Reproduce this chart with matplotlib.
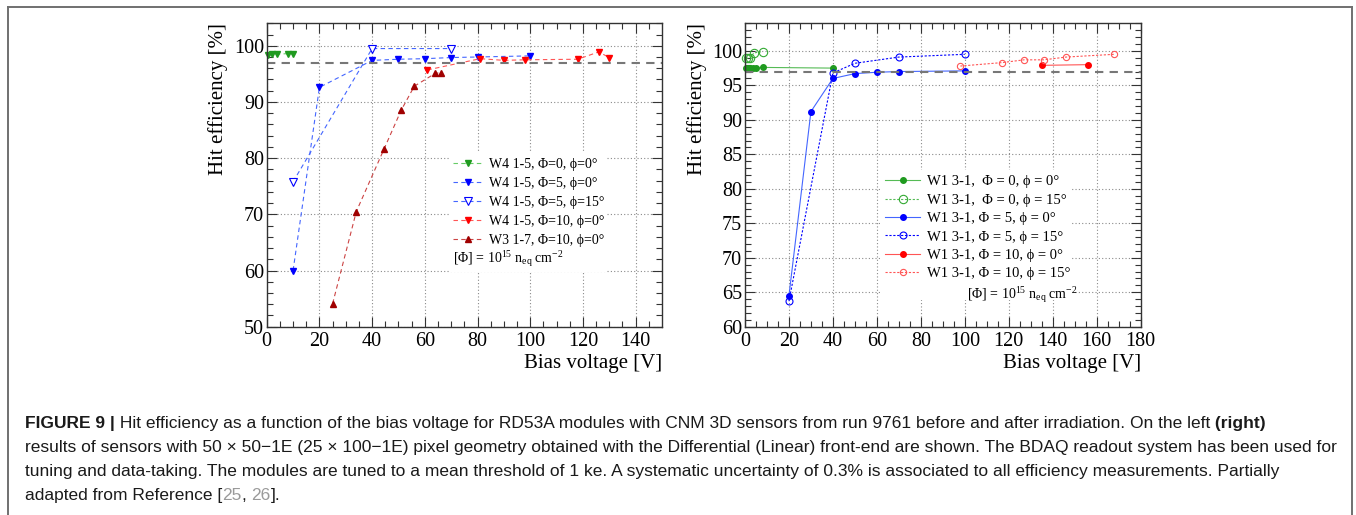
import matplotlib
matplotlib.use("Agg")
import matplotlib.pyplot as plt
from matplotlib.lines import Line2D
from matplotlib.patches import Rectangle
from matplotlib.ticker import MultipleLocator
from matplotlib.transforms import IdentityTransform

plt.rcParams["font.family"] = ["Liberation Serif", "DejaVu Serif"]
plt.rcParams["mathtext.fontset"] = "custom"
plt.rcParams["mathtext.rm"] = "Liberation Serif"
plt.rcParams["mathtext.it"] = "Liberation Serif:italic"
plt.rcParams["mathtext.bf"] = "Liberation Serif:bold"

# -------------------------------------------------------
# LEFT PANEL DATA (50x50 sensors, Differential FE)
# -------------------------------------------------------
w4_phi0_v = [0.5, 2, 4, 8, 10]
w4_phi0_eff = [98.4, 98.5, 98.5, 98.6, 98.5]

w4_phi5_v = [10, 20, 40, 50, 60, 70, 80, 100]
w4_phi5_eff = [60.0, 92.6, 97.4, 97.6, 97.7, 97.9, 98.0, 98.2]

w4_phi5_15_v = [10, 40, 70]
w4_phi5_15_eff = [75.8, 99.5, 99.5]

w4_phi10_v = [61, 81, 90, 98, 118, 126, 130]
w4_phi10_eff = [95.7, 97.7, 97.4, 97.5, 97.6, 98.9, 97.9]

w3_phi10_v = [25, 34, 44.5, 51, 56, 64, 66]
w3_phi10_eff = [54.1, 70.5, 81.6, 88.5, 92.8, 95.1, 95.2]

left_labels = [
    "W4 1-5, \u03a6=0, \u03d5=0\u00b0",
    "W4 1-5, \u03a6=5, \u03d5=0\u00b0",
    "W4 1-5, \u03a6=5, \u03d5=15\u00b0",
    "W4 1-5, \u03a6=10, \u03d5=0\u00b0",
    "W3 1-7, \u03a6=10, \u03d5=0\u00b0",
]

# -------------------------------------------------------
# RIGHT PANEL DATA (25x100 sensors, Linear FE)
# -------------------------------------------------------
w1_phi0_v = [0.5, 1.5, 2.5, 3.5, 5, 8, 40]
w1_phi0_eff = [97.5, 97.5, 97.5, 97.5, 97.5, 97.6, 97.5]

w1_phi0_15_v = [0.5, 1.5, 2.5, 4, 8]
w1_phi0_15_eff = [99.0, 98.9, 99.0, 99.7, 99.9]

w1_phi5_v = [20, 30, 40, 50, 60, 70, 100]
w1_phi5_eff = [64.5, 91.2, 96.0, 96.7, 96.9, 97.0, 97.1]

w1_phi5_15_v = [20, 40, 50, 70, 100]
w1_phi5_15_eff = [63.7, 96.8, 98.2, 99.1, 99.5]

w1_phi10_v = [135, 156]
w1_phi10_eff = [97.9, 98.0]

w1_phi10_15_v = [98, 117, 127, 136, 146, 168]
w1_phi10_15_eff = [97.8, 98.3, 98.7, 98.7, 99.1, 99.5]

right_labels = [
    "W1 3-1,  \u03a6 = 0, \u03d5 = 0\u00b0",
    "W1 3-1,  \u03a6 = 0, \u03d5 = 15\u00b0",
    "W1 3-1, \u03a6 = 5, \u03d5 = 0\u00b0",
    "W1 3-1, \u03a6 = 5, \u03d5 = 15\u00b0",
    "W1 3-1, \u03a6 = 10, \u03d5 = 0\u00b0",
    "W1 3-1, \u03a6 = 10, \u03d5 = 15\u00b0",
]

fluence_note = r"[$\Phi$] = 10$^{15}$ n$_{\rm eq}$ cm$^{-2}$"
efficiency_target = 97

caption_lines = [
    [("FIGURE 9 |", "bold", "#1a1a1a"),
     (" Hit efficiency as a function of the bias voltage for RD53A modules with CNM 3D sensors "
      "from run 9761 before and after irradiation. On the left", "normal", "#1a1a1a"),
     (" (right)", "bold", "#1a1a1a")],
    [("results of sensors with 50 \u00d7 50\u22121E (25 \u00d7 100\u22121E) pixel geometry obtained with "
      "the Differential (Linear) front-end are shown. The BDAQ readout system has been used for",
      "normal", "#1a1a1a")],
    [("tuning and data-taking. The modules are tuned to a mean threshold of 1 ke. A systematic "
      "uncertainty of 0.3% is associated to all efficiency measurements. Partially", "normal", "#1a1a1a")],
    [("adapted from Reference [", "normal", "#1a1a1a"), ("25", "normal", "#9a9a9a"),
     (", ", "normal", "#1a1a1a"), ("26", "normal", "#9a9a9a"), ("].", "normal", "#1a1a1a")],
]
caption_right_edges = [1278, 1322, 1319, 0]

GREEN = "#1f9a1f"
BLUE = "#0000ff"
RED = "#ff0000"
DARKRED = "#a00000"


def style_axes(ax, xlim, ylim, xmaj, xmin, ymaj, ymin):
    ax.set_xlim(*xlim)
    ax.set_ylim(*ylim)
    ax.xaxis.set_major_locator(MultipleLocator(xmaj))
    ax.xaxis.set_minor_locator(MultipleLocator(xmin))
    ax.yaxis.set_major_locator(MultipleLocator(ymaj))
    ax.yaxis.set_minor_locator(MultipleLocator(ymin))
    ax.tick_params(which="both", direction="in", top=True, right=True,
                   labelsize=14.5, width=0.8, color="#333333")
    ax.tick_params(axis="x", which="both", pad=4)
    ax.tick_params(axis="y", which="both", pad=2)
    ax.tick_params(which="major", length=7)
    ax.tick_params(which="minor", length=4)
    for sp in ax.spines.values():
        sp.set_linewidth(1.0)
        sp.set_color("#333333")
    ax.grid(True, which="major", linestyle=(0, (1, 2)), color="#8a8a8a", linewidth=0.8)
    ax.axhline(efficiency_target, color="#777777", linestyle=(0, (4, 3)), linewidth=1.5, zorder=2.5)
    ax.set_xlabel("Bias voltage [V]", loc="right", fontsize=15, labelpad=2)
    ax.set_ylabel("Hit efficiency [%]", loc="top", fontsize=15, labelpad=4)


fig = plt.figure(figsize=(13.56, 5.15), dpi=100)

# -------------------------------------------------------
# LEFT PANEL
# -------------------------------------------------------
axl = fig.add_axes([0.1967, 0.3656, 0.2913, 0.5892])
style_axes(axl, (0, 149.9), (50, 104), 20, 5, 10, 2)

dash = (0, (4, 3))
axl.plot(w4_phi0_v, w4_phi0_eff, ls=dash, lw=0.8, color="#66cc66", marker="v", ms=5,
         mfc=GREEN, mec=GREEN, clip_on=False, label=left_labels[0])
axl.plot(w4_phi5_v, w4_phi5_eff, ls=dash, lw=0.8, color="#4466ff", marker="v", ms=5,
         mfc=BLUE, mec=BLUE, clip_on=False, label=left_labels[1])
axl.plot(w4_phi5_15_v, w4_phi5_15_eff, ls=dash, lw=0.8, color="#4466ff", marker="v", ms=5.5,
         mfc="white", mec=BLUE, mew=0.8, clip_on=False, label=left_labels[2])
axl.plot(w4_phi10_v, w4_phi10_eff, ls=dash, lw=0.8, color="#ff5555", marker="v", ms=5,
         mfc=RED, mec=RED, clip_on=False, label=left_labels[3])
axl.plot(w3_phi10_v, w3_phi10_eff, ls=dash, lw=0.8, color="#cc4444", marker="^", ms=5,
         mfc=DARKRED, mec=DARKRED, clip_on=False, label=left_labels[4])

axl.add_patch(Rectangle((0.462, 0.180), 0.40, 0.40, transform=axl.transAxes,
                        facecolor="white", edgecolor="none", zorder=1.8))
axl.legend(loc="upper left", bbox_to_anchor=(0.472, 0.557), frameon=False, fontsize=10,
           handlelength=2.2, handletextpad=0.4, labelspacing=0.43, borderpad=0, borderaxespad=0)
axl.text(0.472, 0.222, fluence_note, transform=axl.transAxes, fontsize=10,
         ha="left", va="center", zorder=6)

# -------------------------------------------------------
# RIGHT PANEL
# -------------------------------------------------------
axr = fig.add_axes([0.5494, 0.3656, 0.2918, 0.5892])
style_axes(axr, (0, 180), (60, 104), 20, 5, 5, 1)

dot = (0, (2, 1.5))
axr.plot(w1_phi0_v, w1_phi0_eff, ls="-", lw=0.8, color="#55bb55", marker="o", ms=4,
         mfc=GREEN, mec=GREEN, clip_on=False, label=right_labels[0])
axr.plot(w1_phi0_15_v, w1_phi0_15_eff, ls=dot, lw=0.8, color="#55bb55", marker="o", ms=6,
         mfc="none", mec="#33aa33", mew=0.8, clip_on=False, label=right_labels[1])
axr.plot(w1_phi5_v, w1_phi5_eff, ls="-", lw=0.8, color="#4466ff", marker="o", ms=4,
         mfc=BLUE, mec=BLUE, clip_on=False, label=right_labels[2])
axr.plot(w1_phi5_15_v, w1_phi5_15_eff, ls=dot, lw=0.8, color=BLUE, marker="o", ms=5,
         mfc="none", mec=BLUE, mew=0.8, clip_on=False, label=right_labels[3])
axr.plot(w1_phi10_v, w1_phi10_eff, ls="-", lw=0.8, color="#ff5555", marker="o", ms=4,
         mfc=RED, mec=RED, clip_on=False, label=right_labels[4])
axr.plot(w1_phi10_15_v, w1_phi10_15_eff, ls=dot, lw=0.8, color="#ff5555", marker="o", ms=4.5,
         mfc="none", mec="#ff5555", mew=0.8, clip_on=False, label=right_labels[5])

axr.add_patch(Rectangle((0.341, 0.088), 0.48, 0.43, transform=axr.transAxes,
                        facecolor="white", edgecolor="none", zorder=1.8))
axr.legend(loc="upper left", bbox_to_anchor=(0.354, 0.500), frameon=False, fontsize=10.5,
           handlelength=2.4, handletextpad=0.45, labelspacing=0.36, borderpad=0, borderaxespad=0)
axr.text(0.561, 0.105, fluence_note, transform=axr.transAxes, fontsize=10,
         ha="left", va="center", zorder=6)

# -------------------------------------------------------
# FRAME + CAPTION
# -------------------------------------------------------
H = 515.0
frame_kw = dict(transform=IdentityTransform(), color="#707070", linewidth=1.4)
fig.add_artist(Line2D([8, 1352], [H - 6.5, H - 6.5], **frame_kw))
fig.add_artist(Line2D([8, 8], [0, H - 6.5], **frame_kw))
fig.add_artist(Line2D([1352, 1352], [0, H - 6.5], **frame_kw))

cap_family = "Liberation Sans"
renderer = fig.canvas.get_renderer()


def draw_line(runs, x0, y, size):
    x = x0
    made = []
    for text, weight, color in runs:
        t = fig.text(x, y, text, fontsize=size, fontweight=weight, color=color,
                     family=cap_family, ha="left", va="baseline", transform=IdentityTransform())
        x = t.get_window_extent(renderer).x1
        made.append(t)
    return x, made


# fit the caption size to the widths of the full lines in the figure
scales = []
for runs, right in zip(caption_lines[:3], caption_right_edges[:3]):
    x1, made = draw_line(runs, 25, 200, 10)
    for t in made:
        t.remove()
    scales.append((right - 25) / (x1 - 25))
cap_size = 10 * min(sum(scales) / len(scales), min(scales) * 1.01)

baselines = [428, 452, 476, 500]
for runs, base in zip(caption_lines, baselines):
    draw_line(runs, 25, H - base, cap_size)

fig.savefig("out.png", dpi=100)
